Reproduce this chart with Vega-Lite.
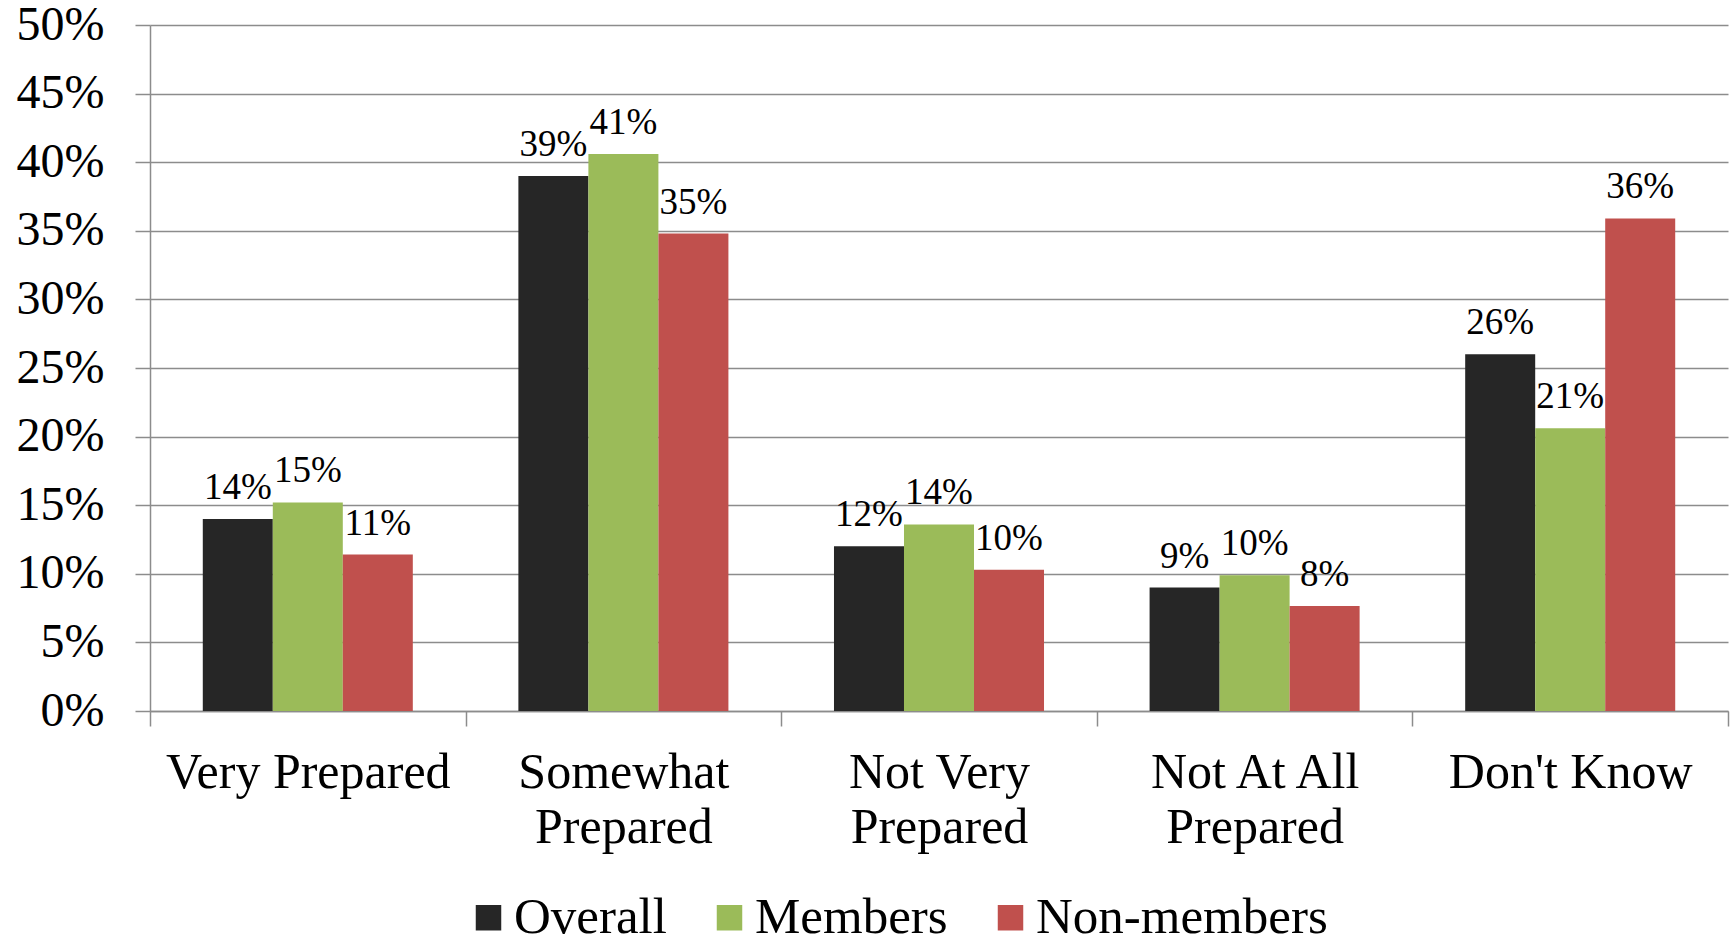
{
  "$schema": "https://vega.github.io/schema/vega-lite/v6.json",
  "width": 1578,
  "height": 686,
  "autosize": {"type": "none"},
  "padding": {"left": 150, "top": 25, "right": 7, "bottom": 225},
  "background": "white",
  "config": {
    "view": {"stroke": null},
    "font": "Liberation Serif"
  },
  "data": {
    "values": [
      {"cat": "Very Prepared", "series": "Overall", "value": 14.0, "label": "14%"},
      {"cat": "Very Prepared", "series": "Members", "value": 15.2, "label": "15%"},
      {"cat": "Very Prepared", "series": "Non-members", "value": 11.4, "label": "11%"},
      {"cat": "Somewhat Prepared", "series": "Overall", "value": 39.0, "label": "39%"},
      {"cat": "Somewhat Prepared", "series": "Members", "value": 40.6, "label": "41%"},
      {"cat": "Somewhat Prepared", "series": "Non-members", "value": 34.8, "label": "35%"},
      {"cat": "Not Very Prepared", "series": "Overall", "value": 12.0, "label": "12%"},
      {"cat": "Not Very Prepared", "series": "Members", "value": 13.6, "label": "14%"},
      {"cat": "Not Very Prepared", "series": "Non-members", "value": 10.3, "label": "10%"},
      {"cat": "Not At All Prepared", "series": "Overall", "value": 9.0, "label": "9%"},
      {"cat": "Not At All Prepared", "series": "Members", "value": 9.9, "label": "10%"},
      {"cat": "Not At All Prepared", "series": "Non-members", "value": 7.65, "label": "8%"},
      {"cat": "Don't Know", "series": "Overall", "value": 26.0, "label": "26%"},
      {"cat": "Don't Know", "series": "Members", "value": 20.6, "label": "21%"},
      {"cat": "Don't Know", "series": "Non-members", "value": 35.9, "label": "36%"}
    ]
  },
  "encoding": {
    "x": {
      "field": "cat",
      "type": "nominal",
      "sort": ["Very Prepared", "Somewhat Prepared", "Not Very Prepared", "Not At All Prepared", "Don't Know"],
      "scale": {"paddingInner": 0, "paddingOuter": 0},
      "axis": {
        "title": null,
        "labelAngle": 0,
        "labelFontSize": 50,
        "labelColor": "#000000",
        "labelLineHeight": 55,
        "labelPadding": 21,
        "labelBaseline": "top",
        "labelLimit": 0,
        "tickBand": "extent",
        "tickSize": 15,
        "tickColor": "#8c8c8c",
        "tickWidth": 1.5,
        "domainColor": "#8c8c8c",
        "domainWidth": 1.5,
        "grid": false,
        "labelExpr": "datum.label == 'Somewhat Prepared' ? ['Somewhat', 'Prepared'] : datum.label == 'Not Very Prepared' ? ['Not Very', 'Prepared'] : datum.label == 'Not At All Prepared' ? ['Not At All', 'Prepared'] : datum.label"
      }
    },
    "xOffset": {
      "field": "series",
      "type": "nominal",
      "sort": ["Overall", "Members", "Non-members"],
      "scale": {"paddingInner": 0, "paddingOuter": 0.754}
    },
    "y": {
      "field": "value",
      "type": "quantitative",
      "scale": {"domain": [0, 50], "nice": false},
      "axis": {
        "title": null,
        "values": [0, 5, 10, 15, 20, 25, 30, 35, 40, 45, 50],
        "labelExpr": "datum.value + '%'",
        "labelFontSize": 48,
        "labelColor": "#000000",
        "labelPadding": 31,
        "labelLimit": 0,
        "tickSize": 15,
        "tickColor": "#8c8c8c",
        "tickWidth": 1.5,
        "domainColor": "#8c8c8c",
        "domainWidth": 1.5,
        "gridColor": "#8c8c8c",
        "gridWidth": 1.5
      }
    }
  },
  "layer": [
    {
      "mark": {"type": "bar"},
      "encoding": {
        "color": {
          "field": "series",
          "type": "nominal",
          "sort": ["Overall", "Members", "Non-members"],
          "scale": {"domain": ["Overall", "Members", "Non-members"], "range": ["#262626", "#9BBB59", "#C0504D"]},
          "legend": {
            "title": null,
            "orient": "none",
            "direction": "horizontal",
            "legendX": 313,
            "legendY": 867,
            "symbolType": "square",
            "symbolSize": 650,
            "symbolStrokeWidth": 0,
            "labelFontSize": 51,
            "labelColor": "#000000",
            "labelOffset": 0,
            "labelLimit": 0,
            "columnPadding": 37,
            "padding": 0
          }
        }
      }
    },
    {
      "mark": {"type": "text", "baseline": "alphabetic", "dy": -20, "fontSize": 37, "color": "#000000"},
      "encoding": {
        "text": {"field": "label"}
      }
    }
  ]
}
